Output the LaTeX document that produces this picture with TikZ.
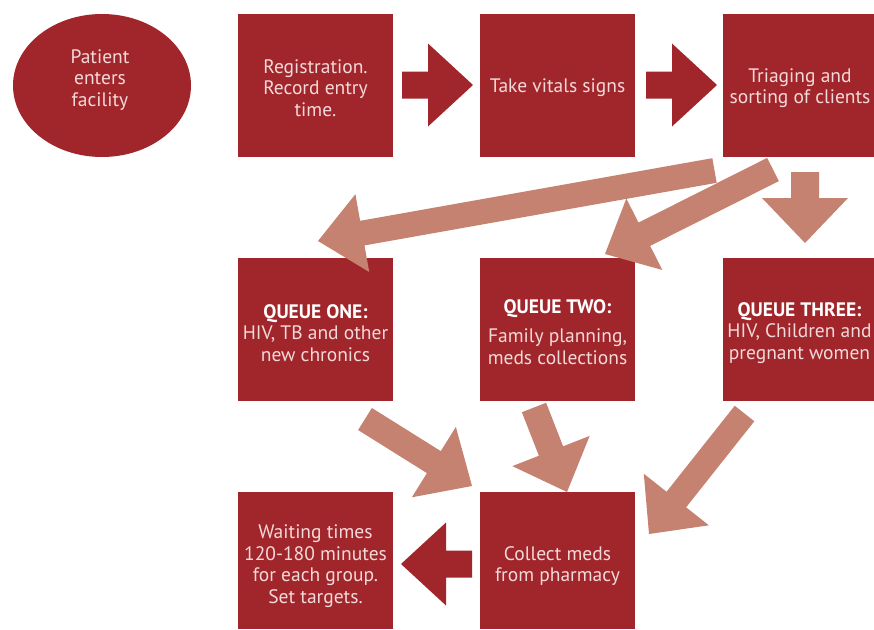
\documentclass[tikz,border=0pt]{standalone}
\usepackage{fontspec}
\setmainfont{PT Sans}
\usetikzlibrary{calc,shapes.geometric}
\definecolor{boxred}{HTML}{A1262B}
\definecolor{salmon}{HTML}{C58271}
\definecolor{txt}{HTML}{F3DADA}
% #1 colour, #2 tail, #3 tip, #4 half shaft, #5 head length, #6 half head
\newcommand{\blockarr}[6]{%
  \path ($(#3)!#5!(#2)$) coordinate (hb);
  \fill[#1] ($(#2)!#4!90:(#3)$) -- ($(hb)!#4!90:(#3)$) -- ($(hb)!#6!90:(#3)$)
    -- (#3) -- ($(hb)!#6!-90:(#3)$) -- ($(hb)!#4!-90:(#3)$)
    -- ($(#2)!#4!-90:(#3)$) -- cycle;
}
\begin{document}
\begin{tikzpicture}[x=1pt,y=-1pt,
  box/.style={fill=boxred, minimum width=155pt, minimum height=143pt, inner sep=0pt},
  tx/.style={text=txt, align=center, inner sep=0pt, font=\fontsize{19.5}{21.5}\selectfont},
  ttl/.style={font=\bfseries, text=white}]
\useasboundingbox (0,0) rectangle (874,629);
\fill[white] (0,0) rectangle (874,629);
% boxes
\node[fill=boxred, ellipse, minimum width=178pt, minimum height=143pt, inner sep=0pt] (pat) at (102,85.5) {};
\node[box] (reg) at (315.5,85.5) {};
\node[box] (vit) at (557.5,85.5) {};
\node[box] (tri) at (800.5,85.5) {};
\node[box] (q1) at (315.5,329.5) {};
\node[box] (q2) at (557.5,329.5) {};
\node[box] (q3) at (800.5,329.5) {};
\node[box, minimum height=137pt] (wt) at (315.5,560.5) {};
\node[box, minimum height=137pt] (col) at (557.5,560.5) {};
% texts
\node[tx] (patt) at (100,80) {Patient\\enters\\facility};
\node[tx] (regt) at (315.5,88) {Registration.\\Record entry\\time.};
\node[tx] (vitt) at (557.5,88) {Take vitals signs};
\node[tx] (trit) at (800,88) {Triaging and\\sorting of clients};
\node[tx] (q1t) at (315.5,333) {{\bfseries\color{white}QUEUE ONE:}\\HIV, TB and other\\new chronics};
\node[tx] (q2t) at (557.5,332) {{\bfseries\color{white}QUEUE TWO:}\\[8pt]Family planning,\\meds collections};
\node[tx] (q3t) at (799.5,333) {{\bfseries\color{white}QUEUE THREE:}\\HIV, Children and\\pregnant women};
\node[tx] (wtt) at (315.5,566) {Waiting times\\120-180 minutes\\for each group.\\Set targets.};
\node[tx] (colt) at (557.5,566) {Collect meds\\from pharmacy};
% arrow end points
\coordinate (a1s) at (402,85);   \coordinate (a1e) at (473,85);
\coordinate (a2s) at (646,85);   \coordinate (a2e) at (717,85);
\coordinate (a3s) at (472,564);  \coordinate (a3e) at (401,564);
\coordinate (b1s) at (714.5,170.5); \coordinate (b1e) at (318,241);
\coordinate (b2s) at (773,169.5);   \coordinate (b2e) at (605,254);
\coordinate (b3s) at (805,172);     \coordinate (b3e) at (805,243);
\coordinate (c1s) at (365,419);     \coordinate (c1e) at (472,486);
\coordinate (c2s) at (534,407.5);   \coordinate (c2e) at (567,492);
\coordinate (c3s) at (744.5,413.5); \coordinate (c3e) at (649,534);
% dark arrows
\blockarr{boxred}{a1s}{a1e}{13.5pt}{45pt}{41.5pt}
\blockarr{boxred}{a2s}{a2e}{13.5pt}{45pt}{41.5pt}
\blockarr{boxred}{a3s}{a3e}{13.5pt}{45pt}{41.5pt}
% salmon arrows
\blockarr{salmon}{b1s}{b1e}{12.5pt}{45pt}{39.5pt}
\blockarr{salmon}{b2s}{b2e}{13pt}{44pt}{40pt}
\blockarr{salmon}{b3s}{b3e}{14pt}{45pt}{43pt}
\blockarr{salmon}{c1s}{c1e}{13pt}{45pt}{41.5pt}
\blockarr{salmon}{c2s}{c2e}{13pt}{44pt}{41.5pt}
\blockarr{salmon}{c3s}{c3e}{12.5pt}{44pt}{41.5pt}
\end{tikzpicture}
\end{document}
